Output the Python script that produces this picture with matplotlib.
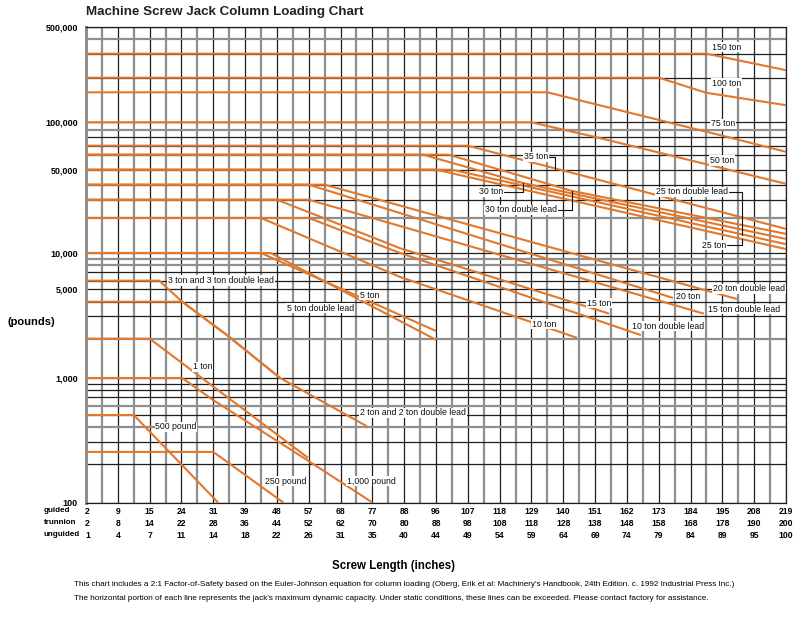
import numpy as np
import matplotlib
matplotlib.use("Agg")
import matplotlib.pyplot as plt
from matplotlib.transforms import blended_transform_factory
from matplotlib.ticker import NullLocator

plt.rcParams['font.family'] = ['Liberation Sans', 'DejaVu Sans']

# ---------------- data ----------------
guided   = [2, 9, 15, 24, 31, 39, 48, 57, 68, 77, 88, 96, 107, 118, 129, 140, 151, 162, 173, 184, 195, 208, 219]
trunnion = [2, 8, 14, 22, 28, 36, 44, 52, 62, 70, 80, 88, 98, 108, 118, 128, 138, 148, 158, 168, 178, 190, 200]
unguided = [1, 4, 7, 11, 14, 18, 22, 26, 31, 35, 40, 44, 49, 54, 59, 64, 69, 74, 79, 84, 89, 95, 100]
row_names = ["guided", "trunnion", "unguided"]

y_ticks = [100, 1000, 5000, 10000, 50000, 100000, 500000]
y_tick_labels = ["100", "1,000", "5,000", "10,000", "50,000", "100,000", "500,000"]

# the chart's printed load axis: loads of its rulings and their height (0 = 100 lb, 1 = 500,000 lb)
axis_loads = [100, 200, 300, 400, 500, 600, 700, 800, 900, 1000, 2000, 3000, 4000, 5000, 6000,
              7000, 8000, 9000, 10000, 20000, 30000, 40000, 50000, 60000, 70000, 80000, 90000,
              100000, 150000, 200000, 300000, 400000, 500000]
axis_heights = [0.0, 0.0809, 0.1271, 0.1587, 0.1839, 0.2035, 0.2218, 0.2365, 0.2497, 0.2617,
                0.3443, 0.3926, 0.4220, 0.4481, 0.4662, 0.4845, 0.4992, 0.5128, 0.5244,
                0.5980, 0.6364, 0.6680, 0.6995, 0.7310, 0.7499, 0.7676, 0.7835, 0.7991,
                0.8621, 0.8928, 0.9433, 0.9741, 1.0]

# series: column position (0 = first column) and load in pounds
t150_pos = [0, 19.5, 22];              t150_load = [300000, 300000, 227000]
t100_pos = [0, 18, 19.5, 22];          t100_load = [200000, 200000, 149000, 126000]
t75_pos  = [0, 14.5, 20.3, 22];        t75_load  = [150000, 150000, 79000, 63000]
t50_pos  = [0, 14, 16.15, 22];         t50_load  = [100000, 100000, 79000, 40500]
t35_pos  = [0, 12, 14.7, 22];          t35_load  = [70000, 70000, 51000, 16100]
t30_pos  = [0, 10.6, 13.73, 22];       t30_load  = [60000, 60000, 41000, 13200]
t30d_pos = [0, 11.4, 15.27, 22];       t30d_load = [60000, 60000, 35500, 14600]
t25_pos  = [0, 11.0, 22];              t25_load  = [50000, 50000, 10800]
t25d_pos = [0, 11.5, 22];              t25d_load = [50000, 50000, 11900]
t20_pos  = [0, 7, 18.45];              t20_load  = [40000, 40000, 4280]
t20d_pos = [0, 7.5, 20.46];            t20d_load = [40000, 40000, 4200]
t15_pos  = [0, 6, 9.87, 16.44];        t15_load  = [30000, 30000, 11000, 3130]
t15d_pos = [0, 7, 19.42];              t15d_load = [30000, 30000, 3130]
t10_pos  = [0, 5.5, 9.87, 15.43];      t10_load  = [20000, 20000, 6410, 2030]
t10d_pos = [0, 7, 9.87, 17.44];        t10d_load = [20000, 20000, 10000, 2130]
t5_pos   = [0, 5.5, 11.0];             t5_load   = [10000, 10000, 2290]
t5d_pos  = [0, 5.8, 11.0];             t5d_load  = [10000, 10000, 1960]
t3_pos   = [0, 2.3, 3.02, 4.43, 6.10]; t3_load   = [6000, 6000, 4000, 2130, 1000]
t2_pos   = [0, 3.02, 4.43, 6.10, 8.83]; t2_load  = [4000, 4000, 2130, 1000, 405]
t1_pos   = [0, 2.0, 6.98];             t1_load   = [2000, 2000, 224]
p1000_pos = [0, 3.02, 3.99, 6.95, 9.0]; p1000_load = [1000, 1000, 664, 215, 100]
p500_pos = [0, 1.5, 4.15];             p500_load = [500, 500, 100]
p250_pos = [0, 4.0, 6.2];              p250_load = [250, 250, 100]

series = [(t150_pos, t150_load), (t100_pos, t100_load), (t75_pos, t75_load),
          (t50_pos, t50_load), (t35_pos, t35_load), (t30_pos, t30_load),
          (t30d_pos, t30d_load), (t25_pos, t25_load), (t25d_pos, t25d_load),
          (t20_pos, t20_load), (t20d_pos, t20d_load), (t15_pos, t15_load),
          (t15d_pos, t15d_load), (t10_pos, t10_load), (t10d_pos, t10d_load),
          (t5_pos, t5_load), (t5d_pos, t5d_load), (t3_pos, t3_load),
          (t2_pos, t2_load), (t1_pos, t1_load), (p1000_pos, p1000_load),
          (p500_pos, p500_load), (p250_pos, p250_load)]

# labels: text, column, load, horizontal alignment
plain_labels = [
    ("150 ton", 19.67, 342000, "left"),
    ("100 ton", 19.67, 180000, "left"),
    ("75 ton", 19.64, 97600, "left"),
    ("50 ton", 19.61, 56000, "left"),
    ("20 ton double lead", 19.7, 5050, "left"),
    ("20 ton", 18.54, 4430, "left"),
    ("15 ton", 15.74, 3890, "left"),
    ("15 ton double lead", 19.55, 3440, "left"),
    ("10 ton", 14.02, 2590, "left"),
    ("10 ton double lead", 17.16, 2500, "left"),
    ("5 ton", 8.61, 4510, "left"),
    ("5 ton double lead", 6.32, 3510, "left"),
    ("3 ton and 3 ton double lead", 2.58, 6000, "left"),
    ("1 ton", 3.36, 1214, "left"),
    ("2 ton and 2 ton double lead", 8.61, 520, "left"),
    ("500 pound", 2.83, 400, "center"),
    ("250 pound", 5.63, 147, "left"),
    ("1,000 pound", 8.2, 147, "left"),
]
# bracket labels: text, text column (right edge), text load, bracket column, series
bracket_labels = [
    ("35 ton", 14.52, 58400, 14.74, (t35_pos, t35_load)),
    ("30 ton", 13.10, 34800, 13.73, (t30_pos, t30_load)),
    ("30 ton double lead", 14.80, 23900, 15.27, (t30d_pos, t30d_load)),
    ("25 ton double lead", 20.18, 34800, 20.62, (t25d_pos, t25d_load)),
    ("25 ton", 20.11, 11700, 20.62, (t25_pos, t25_load)),
]

grid_values = [m * d for d in (100, 1000, 10000, 100000) for m in range(1, 10) if m * d <= 500000]
gray_grid = {400000, 90000, 20000, 9000, 8000, 2000, 600, 400}

ORANGE = "#e2782c"
GRAY = "#8f8f8f"
BLACK = "#1e1e1e"

# ---------------- load scale as printed on the chart ----------------
LL = np.log10(np.array(axis_loads, dtype=float))
HH = np.array(axis_heights, dtype=float)
s_lo = (HH[1] - HH[0]) / (LL[1] - LL[0])
s_hi = (HH[-1] - HH[-2]) / (LL[-1] - LL[-2])


def fwd(v):
    v = np.asarray(v, dtype=float)
    with np.errstate(divide="ignore", invalid="ignore"):
        lv = np.log10(np.clip(v, 1e-12, None))
    out = np.interp(lv, LL, HH)
    out = np.where(lv < LL[0], HH[0] + (lv - LL[0]) * s_lo, out)
    out = np.where(lv > LL[-1], HH[-1] + (lv - LL[-1]) * s_hi, out)
    return out


def inv(h):
    h = np.asarray(h, dtype=float)
    lv = np.interp(h, HH, LL)
    lv = np.where(h < HH[0], LL[0] + (h - HH[0]) / s_lo, lv)
    lv = np.where(h > HH[-1], LL[-1] + (h - HH[-1]) / s_hi, lv)
    return 10 ** lv


# ---------------- figure ----------------
fig = plt.figure(figsize=(8, 6.24), dpi=100)
ax = fig.add_axes([86 / 800, 1 - 502.5 / 624, 700 / 800, 475.8 / 624])
ax.set_yscale("function", functions=(fwd, inv))
ax.set_xlim(0, len(guided) - 1)
ax.set_ylim(100, 500000)

# grid
for i in range(len(guided)):
    ax.axvline(i, color=BLACK, lw=0.9, zorder=1)
for i in range(len(guided) - 1):
    ax.axvline(i + 0.5, color=GRAY, lw=1.6, zorder=1)
for v in grid_values:
    if v in gray_grid:
        ax.axhline(v, color=GRAY, lw=1.6, zorder=1)
    else:
        ax.axhline(v, color=BLACK, lw=0.9, zorder=1)

for pos, load in series:
    ax.plot(pos, load, color=ORANGE, lw=1.5, zorder=3, solid_capstyle="butt")

lab_font = dict(fontsize=6.3, color="#111111", zorder=6)
bbox = dict(facecolor="white", edgecolor="none", pad=0.5)
for txt, c, v, ha in plain_labels:
    ax.text(c, v, txt, ha=ha, va="center", bbox=bbox, **lab_font)


def load_at(pos, load, c):
    return 10 ** np.interp(c, pos, np.log10(load))


for txt, c, v, cb, (pos, load) in bracket_labels:
    ax.annotate(txt, xy=(cb, load_at(pos, load, c=cb)), xytext=(c, v),
                ha="right", va="center", bbox=bbox, **lab_font,
                arrowprops=dict(arrowstyle="-", color="#111111", lw=0.8,
                                connectionstyle="angle,angleA=0,angleB=90,rad=0",
                                relpos=(1, 0.5), shrinkA=0, shrinkB=0))

# axes styling
ax.set_yticks(y_ticks)
ax.set_yticklabels(y_tick_labels, fontsize=6.5, fontweight="bold")
ax.yaxis.set_minor_locator(NullLocator())
ax.tick_params(axis="y", length=0, pad=6)
ax.set_xticks([])
for s in ("top", "right", "bottom"):
    ax.spines[s].set_color(BLACK)
    ax.spines[s].set_linewidth(0.9)
ax.spines["left"].set_color(GRAY)
ax.spines["left"].set_linewidth(2.2)

# three rows of column labels
tr = blended_transform_factory(ax.transData, fig.transFigure)
row_y = [1 - 511 / 624, 1 - 523 / 624, 1 - 535 / 624]
for row, vals, yy in zip(row_names, (guided, trunnion, unguided), row_y):
    fig.text(44 / 800, yy, row, ha="left", va="center", fontsize=5.8, fontweight="bold")
    for i, val in enumerate(vals):
        ax.text(i + (0.05 if i == 0 else 0), yy, str(val), transform=tr, ha="center", va="center",
                fontsize=6.2, fontweight="bold")

fig.text(86 / 800, 1 - 12 / 624, "Machine Screw Jack Column Loading Chart", ha="left", va="center",
         fontsize=9.6, fontweight="bold", color="#222222")
fig.text(8 / 800, 1 - 322 / 624, "(pounds)", ha="left", va="center", fontsize=8, fontweight="bold")
fig.text(393 / 800, 1 - 566 / 624, "Screw Length (inches)", ha="center", va="center",
         fontsize=8.3, fontweight="bold")
fig.text(74 / 800, 1 - 584 / 624,
         "This chart includes a 2:1 Factor-of-Safety based on the Euler-Johnson equation for column loading "
         "(Oberg, Erik et al: Machinery's Handbook, 24th Edition. c. 1992 Industrial Press Inc.)",
         ha="left", va="center", fontsize=5.9)
fig.text(74 / 800, 1 - 598 / 624,
         "The horizontal portion of each line represents the jack's maximum dynamic capacity. Under static "
         "conditions, these lines can be exceeded. Please contact factory for assistance.",
         ha="left", va="center", fontsize=5.9)

fig.savefig("out.png", dpi=100, facecolor="white")
